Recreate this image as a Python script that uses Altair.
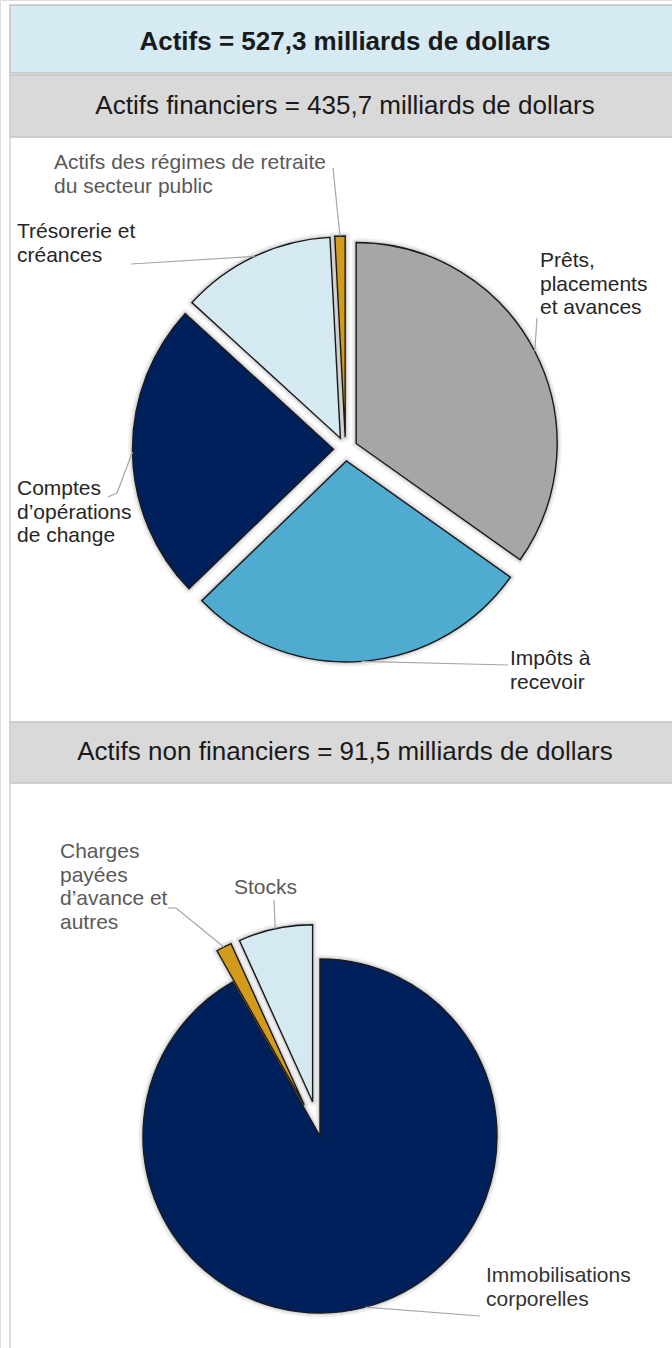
import math

import altair as alt
import pandas as pd

W, H = 672, 1348
FONT = "Liberation Sans"

# ---- data -----------------------------------------------------------------
titles = [
    "Actifs = 527,3 milliards de dollars",
    "Actifs financiers = 435,7 milliards de dollars",
    "Actifs non financiers = 91,5 milliards de dollars",
]

# Financial assets, billions of dollars, clockwise from 12 o'clock
fin_categories = [
    "Prêts, placements et avances",
    "Impôts à recevoir",
    "Comptes d’opérations de change",
    "Trésorerie et créances",
    "Actifs des régimes de retraite du secteur public",
]
fin_values = [151.7, 121.8, 104.6, 54.0, 3.6]
fin_label_lines = [
    ["Prêts,", "placements", "et avances"],
    ["Impôts à", "recevoir"],
    ["Comptes", "d’opérations", "de change"],
    ["Trésorerie et", "créances"],
    ["Actifs des régimes de retraite", "du secteur public"],
]

# Non-financial assets, billions of dollars, clockwise from 12 o'clock
nonfin_categories = [
    "Immobilisations corporelles",
    "Charges payées d’avance et autres",
    "Stocks",
]
nonfin_values = [84.0, 1.3, 6.2]
nonfin_label_lines = [
    ["Immobilisations", "corporelles"],
    ["Charges", "payées", "d’avance et", "autres"],
    ["Stocks"],
]

# ---- styles ---------------------------------------------------------------
fin_colors = ["#A6A6A6", "#4FACD0", "#00205B", "#D5E9F2", "#D39B1B"]
nonfin_colors = ["#00205B", "#D39B1B", "#D5E9F2"]
fin_text_colors = ["#262626", "#262626", "#262626", "#262626", "#595959"]
nonfin_text_colors = ["#333333", "#595959", "#595959"]

# ---- layout ---------------------------------------------------------------
PIE1 = dict(cx=345.5, cy=449.0, r=201, explode=[12, 12, 12, 12, 12])
PIE2 = dict(cx=320.0, cy=1136.0, r=177, explode=[0, 35, 35])
LINE_H = 23.7

# label anchor (left x, centre of first line) and leader-line bends
fin_label_pos = [(540, 261), (510, 659), (17, 489), (17, 232), (54, 163)]
fin_leader_path = [
    [(537, 318)],
    [(508, 665)],
    [(117, 493), (108, 497)],
    [(131, 264)],
    [(333, 168)],
]
nonfin_label_pos = [(486, 1276), (60, 852), (234, 888)]
nonfin_leader_path = [
    [(480, 1316)],
    [(176, 908), (168, 908)],
    [(274, 900)],
]

banners = pd.DataFrame(
    [
        dict(x0=10, x1=W + 8, y0=5, y1=73, fill="#D5EAF3"),
        dict(x0=10, x1=W + 8, y0=75, y1=137, fill="#D9D9D9"),
        dict(x0=10, x1=W + 8, y0=722, y1=783, fill="#D9D9D9"),
    ]
)
main_title = pd.DataFrame([dict(text=titles[0], x=345, y=42)])
sub_titles = pd.DataFrame(
    [
        dict(text=titles[1], x=345, y=106),
        dict(text=titles[2], x=345, y=752),
    ]
)


def pie_table(cats, vals, geo):
    total = sum(vals)
    rows, acc = [], 0.0
    for c, v, d in zip(cats, vals, geo["explode"]):
        t0 = acc / total
        acc += v
        t1 = acc / total
        mid = math.pi * (t0 + t1)
        ax = geo["cx"] + d * math.sin(mid)
        ay = geo["cy"] - d * math.cos(mid)
        rows.append(
            dict(
                category=c, value=v, t0=t0, t1=t1, ax=ax, ay=ay,
                ex=ax + geo["r"] * math.sin(mid),
                ey=ay - geo["r"] * math.cos(mid),
            )
        )
    return pd.DataFrame(rows)


def label_rows(lines, pos, colors):
    rows = []
    for ls, (x, y), col in zip(lines, pos, colors):
        for i, t in enumerate(ls):
            rows.append(dict(text=t, x=x, y=y + i * LINE_H, tc=col))
    return rows


def leader_rows(df, paths):
    rows = []
    for (_, s), path in zip(df.iterrows(), paths):
        pts = [(s["ex"], s["ey"])] + path
        for (x0, y0), (x1, y1) in zip(pts[:-1], pts[1:]):
            rows.append(dict(x0=x0, y0=y0, x1=x1, y1=y1))
    return rows


fin_df = pie_table(fin_categories, fin_values, PIE1)
nonfin_df = pie_table(nonfin_categories, nonfin_values, PIE2)
labels = pd.DataFrame(
    label_rows(fin_label_lines, fin_label_pos, fin_text_colors)
    + label_rows(nonfin_label_lines, nonfin_label_pos, nonfin_text_colors)
)
leaders = pd.DataFrame(
    leader_rows(fin_df, fin_leader_path) + leader_rows(nonfin_df, nonfin_leader_path)
)

# ---- scales ---------------------------------------------------------------
xs = alt.Scale(domain=[0, W], range=[0, W], nice=False, zero=False)
ys = alt.Scale(domain=[0, H], range=[0, H], nice=False, zero=False)
ts = alt.Scale(domain=[0, 1], range=[0, 2 * math.pi])
cs = alt.Scale(domain=fin_categories + nonfin_categories, range=fin_colors + nonfin_colors)

# ---- layers ---------------------------------------------------------------
banner_layer = alt.Chart(banners).mark_rect(stroke="#C4C4C4", strokeWidth=1.5).encode(
    x=alt.X("x0:Q", scale=xs, axis=None),
    x2="x1:Q",
    y=alt.Y("y0:Q", scale=ys, axis=None),
    y2="y1:Q",
    fill=alt.Fill("fill:N", scale=None),
)

frame_layer = alt.Chart(pd.DataFrame([dict(x=10, y0=5, y1=H)])).mark_rule(
    color="#CFCFCF", strokeWidth=1.5
).encode(
    x=alt.X("x:Q", scale=xs, axis=None),
    y=alt.Y("y0:Q", scale=ys, axis=None),
    y2="y1:Q",
)


def title_layer(df, weight):
    return alt.Chart(df).mark_text(
        font=FONT, fontSize=26, fontWeight=weight, color="#1A1A1A",
        align="center", baseline="middle",
    ).encode(
        x=alt.X("x:Q", scale=xs, axis=None),
        y=alt.Y("y:Q", scale=ys, axis=None),
        text="text:N",
    )


def pie_layers(df, r):
    base = alt.Chart(df).encode(
        x=alt.X("ax:Q", scale=xs, axis=None),
        y=alt.Y("ay:Q", scale=ys, axis=None),
        theta=alt.Theta("t0:Q", scale=ts, stack=None),
        theta2="t1:Q",
    )
    # soft shadow around each slice
    glow_wide = base.mark_arc(
        radius=r, fill="#808080", stroke="#808080", strokeWidth=9,
        strokeOpacity=0.12, strokeJoin="round",
    )
    glow_narrow = base.mark_arc(
        radius=r, fill="#808080", stroke="#808080", strokeWidth=4.5,
        strokeOpacity=0.22, strokeJoin="round",
    )
    slices = base.mark_arc(
        radius=r, stroke="#1A1A1A", strokeWidth=1.4, strokeJoin="miter"
    ).encode(color=alt.Color("category:N", scale=cs, legend=None))
    return [glow_wide, glow_narrow, slices]


leader_layer = alt.Chart(leaders).mark_rule(color="#A6A6A6", strokeWidth=1.2).encode(
    x=alt.X("x0:Q", scale=xs, axis=None),
    y=alt.Y("y0:Q", scale=ys, axis=None),
    x2="x1:Q",
    y2="y1:Q",
)

label_layer = alt.Chart(labels).mark_text(
    font=FONT, fontSize=21, align="left", baseline="middle"
).encode(
    x=alt.X("x:Q", scale=xs, axis=None),
    y=alt.Y("y:Q", scale=ys, axis=None),
    text="text:N",
    color=alt.Color("tc:N", scale=None),
)

chart = (
    alt.layer(
        banner_layer,
        frame_layer,
        title_layer(main_title, "bold"),
        title_layer(sub_titles, "normal"),
        *pie_layers(fin_df, PIE1["r"]),
        *pie_layers(nonfin_df, PIE2["r"]),
        leader_layer,
        label_layer,
    )
    .properties(width=W, height=H, padding=0, autosize=alt.AutoSizeParams(type="none"))
    .configure_view(stroke=None)
    .configure(background="white")
)

chart.save("out.html", embed_options={"renderer": "svg", "actions": False})
